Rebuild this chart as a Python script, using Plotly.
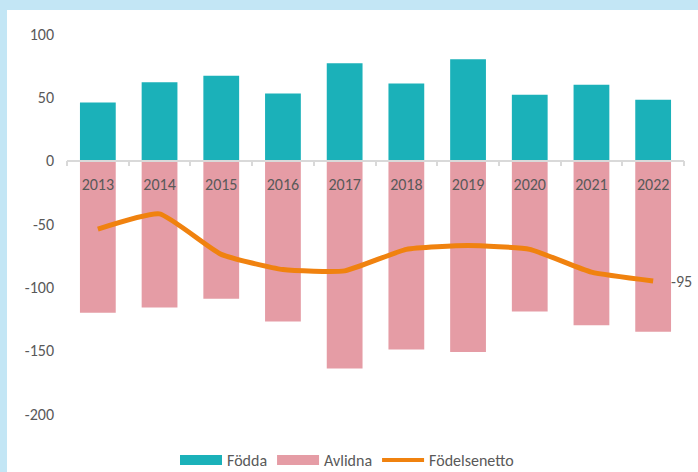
import plotly.graph_objects as go

years = ["2013", "2014", "2015", "2016", "2017", "2018", "2019", "2020", "2021", "2022"]
fodda = [46, 62, 67, 53, 77, 61, 80, 52, 60, 48]
avlidna = [-120, -116, -109, -127, -164, -149, -151, -119, -130, -135]
netto = [-54, -42, -74, -86, -87, -70, -67, -70, -88, -95]
yticks = [100, 50, 0, -50, -100, -150, -200]

TEAL = "#1BB1B9"
PINK = "#E59CA5"
ORANGE = "#F0820F"
GREY = "#595959"
BLUE = "#C3E6F5"
FONT = "Carlito, Calibri, Lato, sans-serif"

W, H = 698, 472
L, R, T, B = 67, 14, 34, 58
ymin, ymax = -200, 100

fig = go.Figure()
fig.add_trace(go.Bar(x=years, y=fodda, name="Födda", marker=dict(color=TEAL, line=dict(width=0)), showlegend=False))
fig.add_trace(go.Bar(x=years, y=avlidna, name="Avlidna", marker=dict(color=PINK, line=dict(width=0)), showlegend=False))
fig.add_trace(go.Scatter(x=years, y=netto, name="Födelsenetto", mode="lines",
                         line=dict(color=ORANGE, width=5, shape="spline", smoothing=0.45), showlegend=False))

# legend-only entries (wide swatches like the original)
fig.add_trace(go.Scatter(x=[years[0]], y=[None], mode="lines", name="Födda", line=dict(color=TEAL, width=12)))
fig.add_trace(go.Scatter(x=[years[0]], y=[None], mode="lines", name="Avlidna", line=dict(color=PINK, width=12)))
fig.add_trace(go.Scatter(x=[years[0]], y=[None], mode="lines", name="Födelsenetto", line=dict(color=ORANGE, width=4)))

ph = H - T - B
pw = W - L - R
zero_pos = (0 - ymin) / (ymax - ymin)

fig.add_annotation(x=len(years) - 1, y=netto[-1], text=str(netto[-1]), showarrow=False,
                   xanchor="left", xshift=16, font=dict(family=FONT, size=16, color=GREY))

# light blue frame strips on top and left
px_x = lambda p: (p - L) / pw
px_y = lambda p: 1 - (p - T) / ph
fig.add_shape(type="rect", xref="paper", yref="paper", x0=px_x(-5), x1=px_x(W + 5), y0=px_y(10), y1=px_y(-5),
              fillcolor=BLUE, line=dict(width=0), layer="below")
fig.add_shape(type="rect", xref="paper", yref="paper", x0=px_x(-5), x1=px_x(7), y0=px_y(H + 5), y1=px_y(-5),
              fillcolor=BLUE, line=dict(width=0), layer="below")

fig.update_layout(
    width=W, height=H,
    margin=dict(l=L, r=R, t=T, b=B, autoexpand=False),
    paper_bgcolor="white", plot_bgcolor="rgba(0,0,0,0)",
    barmode="relative", bargap=0.42,
    font=dict(family=FONT, size=16, color=GREY),
    xaxis=dict(type="category", range=[-0.5, len(years) - 0.5], anchor="free", position=zero_pos,
               showline=True, linecolor="#D9D9D9", linewidth=1.5,
               ticks="outside", tickson="boundaries", ticklen=5, tickcolor="#D9D9D9", tickwidth=1.5,
               ticklabelstandoff=9, showgrid=False, zeroline=False, tickangle=0,
               tickfont=dict(family=FONT, size=16, color=GREY)),
    yaxis=dict(range=[ymin, ymax], tickvals=yticks, ticktext=[str(v) for v in yticks],
               showgrid=False, zeroline=False, showline=False, ticks="", ticklabelstandoff=12,
               tickfont=dict(family=FONT, size=16, color=GREY)),
    legend=dict(orientation="h", x=(175 - L) / pw, xanchor="left", y=-(460 - (H - B)) / ph, yanchor="middle",
                font=dict(family=FONT, size=16, color=GREY), bgcolor="rgba(0,0,0,0)", itemwidth=42),
)

fig.write_html("out.html", config={"displayModeBar": False},
               post_script="document.body.style.margin='0';document.body.style.overflow='hidden';")
